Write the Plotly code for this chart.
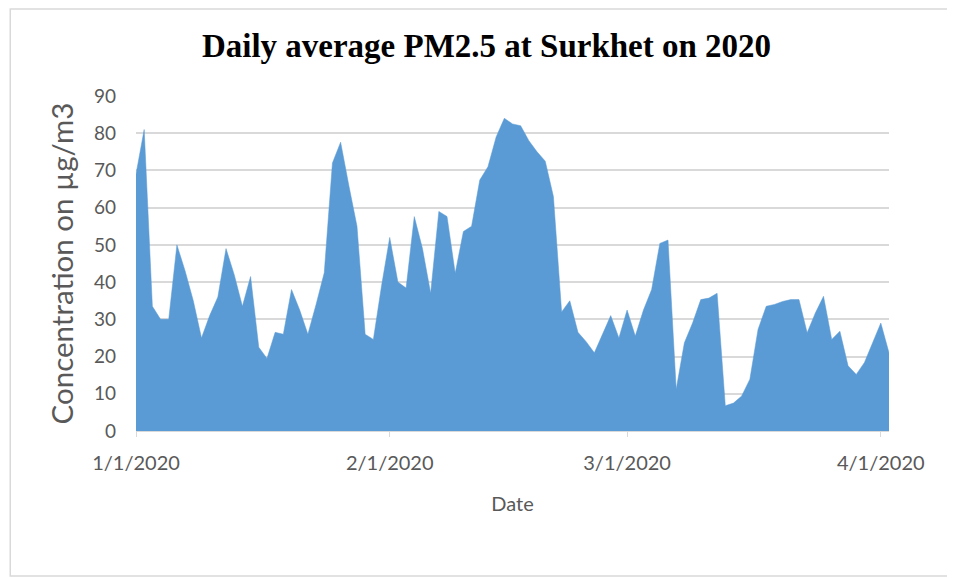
import pandas as pd
import plotly.graph_objects as go

# daily average PM2.5, 1 Jan 2020 to 2 Apr 2020
start_date = "2020-01-01"
pm25 = [
    69, 81, 33.5, 30, 30, 50, 43, 35, 25, 31,
    36, 49, 42, 33.5, 41.5, 22.5, 19.5, 26.5, 26, 38,
    32.5, 26, 34, 42.5, 72, 77.6, 66, 55, 26, 24.6,
    39, 52, 40, 38.4, 57.6, 49, 37, 59, 57.6, 42.4,
    53.6, 55, 67.4, 71, 79, 84, 82.5, 82, 78, 75,
    72.5, 63, 32, 35, 26.5, 24, 21, 26, 31, 25,
    32.5, 25.5, 32.5, 38, 50.4, 51.3, 11.2, 23.7, 29, 35.3,
    35.7, 37, 6.8, 7.5, 9.4, 13.9, 27.3, 33.5, 34, 34.8,
    35.3, 35.3, 26.4, 31.7, 36.2, 24.6, 26.8, 17.5, 15.2, 18.4,
    23.7, 29, 21,
]
dates = pd.date_range(start_date, periods=len(pm25), freq="D")

tick_dates = ["2020-01-01", "2020-02-01", "2020-03-01", "2020-04-01"]
tick_labels = ["1/1/2020", "2/1/2020", "3/1/2020", "4/1/2020"]

BLUE = "#5B9BD5"
GRID = "#D9D9D9"
TXT = "#595959"

fig = go.Figure()

fig.add_trace(go.Scatter(
    x=dates, y=pm25, mode="lines", fill="tozeroy",
    fillcolor=BLUE, line=dict(color=BLUE, width=0.5),
    showlegend=False, hoverinfo="x+y",
))

# light frame around the chart area (Excel style), open on the right
fig.add_shape(type="path", xref="paper", yref="paper",
              path="M 1.3,1.26 L -0.167,1.26 L -0.167,-0.433 L 1.3,-0.433",
              line=dict(color=GRID, width=1.5), layer="below")

fig.update_layout(
    width=947, height=570,
    margin=dict(l=128, r=66, t=88, b=147),
    paper_bgcolor="white", plot_bgcolor="white",
    title=dict(
        text="<b>Daily average PM2.5 at Surkhet on 2020</b>",
        font=dict(family="Liberation Serif", size=33, color="black"),
        x=478.5 / 947, xref="container", xanchor="center",
        y=1 - 37 / 570, yref="container", yanchor="middle",
    ),
    font=dict(family="Lato", color=TXT),
)

fig.update_xaxes(
    range=["2020-01-01", "2020-04-02"],
    tickvals=tick_dates, ticktext=tick_labels,
    tickfont=dict(family="Lato", size=20, color=TXT),
    showgrid=False, zeroline=False,
    showline=True, linecolor=GRID, linewidth=1,
    ticks="outside", ticklen=5, tickcolor=GRID,
    ticklabelstandoff=9,
    title=dict(text="Date", font=dict(family="Lato", size=20, color=TXT),
               standoff=23),
)

fig.update_yaxes(
    range=[0, 90], dtick=10,
    tickfont=dict(family="Lato", size=19, color=TXT),
    showgrid=True, gridcolor=GRID, gridwidth=1.5,
    zeroline=False, showline=False, ticks="",
    ticklabelstandoff=19,
    title=dict(text="Concentration on µg/m3",
               font=dict(family="Lato", size=29.5, color=TXT),
               standoff=11),
)

fig.write_html("out.html")
